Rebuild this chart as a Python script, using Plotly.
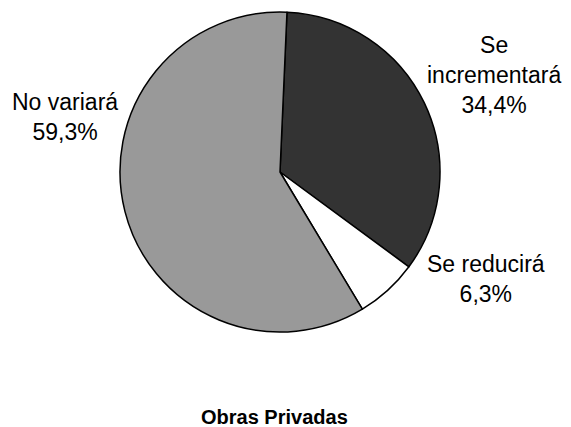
import plotly.graph_objects as go

# Datos
etiquetas = ['Se incrementará', 'Se reducirá', 'No variará']
valores = [34.4, 6.3, 59.3]
textos = ['Se<br>incrementará<br>34,4%', 'Se reducirá<br>6,3%', 'No variará<br>59,3%']
colores = ['#333333', '#ffffff', '#999999']

# la página añade 8px de margen al cuerpo
W, H, OFF = 563, 419, 8

def px_x(x):
    return (x - OFF) / W

def px_y(y):
    return 1 - (y - OFF) / H

fig = go.Figure()

# centro del pastel (280, 172), radio 160
fig.add_trace(go.Pie(
    labels=etiquetas,
    values=valores,
    sort=False,
    direction='clockwise',
    rotation=2.5,
    marker=dict(colors=colores, line=dict(color='black', width=1.5)),
    textinfo='none',
    hoverinfo='label+percent',
    domain=dict(x=[px_x(120), px_x(440)], y=[px_y(332), px_y(12)]),
    showlegend=False
))

# Etiquetas externas (posición en píxeles de la página)
pos_etiquetas = [(494, 75), (486, 279), (65, 117)]
for t, (px, py) in zip(textos, pos_etiquetas):
    fig.add_annotation(
        text=t, x=px_x(px), y=px_y(py), xref='paper', yref='paper',
        showarrow=False, align='center', xanchor='center', yanchor='middle',
        font=dict(family='Liberation Sans, Arial', size=23, color='black')
    )

fig.add_annotation(
    text='<b>Obras Privadas</b>', x=px_x(274), y=px_y(417),
    xref='paper', yref='paper', showarrow=False,
    xanchor='center', yanchor='middle',
    font=dict(family='Liberation Sans, Arial', size=20, color='black')
)

fig.update_layout(
    width=W, height=H,
    margin=dict(l=0, r=0, t=0, b=0),
    paper_bgcolor='white',
    plot_bgcolor='white'
)

fig.write_html('out.html')
